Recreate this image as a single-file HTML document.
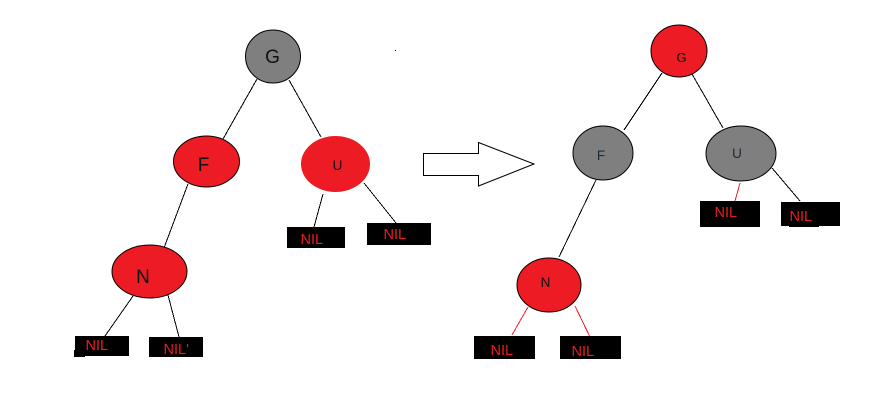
<!DOCTYPE html>
<html lang="en">
<head>
<meta charset="utf-8">
<title>Red-black tree recolor diagram</title>
<style>
html,body{margin:0;padding:0;background:#fff;width:874px;height:402px;overflow:hidden}
svg{display:block}
text{font-family:"Liberation Sans",sans-serif}
.k{fill:#111;text-anchor:middle}
.n{fill:#ed1c24;font-size:14.5px}
line{stroke-width:1}
</style>
</head>
<body>
<svg width="874" height="402" viewBox="0 0 874 402" xmlns="http://www.w3.org/2000/svg">
<rect width="874" height="402" fill="#fff"/>

<g stroke="#000" shape-rendering="crispEdges">
<line x1="257" y1="79" x2="223" y2="139"/>
<line x1="289" y1="80" x2="321" y2="137"/>
<line x1="188" y1="184" x2="164" y2="248"/>
<line x1="323" y1="194" x2="314" y2="227"/>
<line x1="364" y1="183" x2="396" y2="223"/>
<line x1="133" y1="296" x2="105" y2="336"/>
<line x1="168" y1="295" x2="179" y2="337"/>
<line x1="662" y1="73" x2="624" y2="130"/>
<line x1="692" y1="74" x2="723" y2="128"/>
<line x1="596" y1="180" x2="559" y2="257"/>
<line x1="772" y1="168" x2="800" y2="201"/>
</g>
<g stroke="#ed1c24" shape-rendering="crispEdges">
<line x1="528" y1="307" x2="512" y2="335"/>
<line x1="575" y1="306" x2="590" y2="337"/>
<line x1="740" y1="183" x2="735" y2="201"/>
</g>

<g fill="#000" shape-rendering="crispEdges">
<rect x="75" y="336" width="54" height="20"/>
<rect x="74" y="350" width="11" height="7"/>
<rect x="149" y="337" width="54" height="20"/>
<rect x="287" y="227" width="58" height="21"/>
<rect x="367" y="223" width="64" height="22"/>
<rect x="474" y="336" width="61" height="23"/>
<rect x="560" y="336" width="61" height="23"/>
<rect x="700" y="201" width="60" height="26"/>
<rect x="781" y="202" width="59" height="24"/>
<rect x="789" y="225" width="30" height="2"/>
<rect x="395" y="50" width="1" height="1"/>
</g>

<g stroke="#000" stroke-width="1">
<ellipse cx="273" cy="56.5" rx="27.5" ry="26.5" fill="#7f7f7f"/>
<ellipse cx="206.5" cy="161.5" rx="33" ry="25.5" fill="#ed1c24"/>
<ellipse cx="149.5" cy="271.5" rx="37.5" ry="26.5" fill="#ed1c24"/>
<ellipse cx="679" cy="51" rx="28" ry="26" fill="#ed1c24"/>
<ellipse cx="603" cy="153" rx="30" ry="27" fill="#7f7f7f"/>
<ellipse cx="741" cy="153.5" rx="35" ry="27.5" fill="#7f7f7f"/>
<ellipse cx="549" cy="285" rx="32" ry="27" fill="#ed1c24"/>
</g>
<ellipse cx="335.5" cy="164" rx="34.5" ry="28" fill="#ed1c24"/>

<polygon points="423.5,153.5 478.5,153.5 478.5,142.5 534,164 478.5,186 478.5,175.5 423.5,175.5" fill="#fff" stroke="#000" stroke-width="1"/>

<text class="k" x="272.5" y="63" font-size="19">G</text>
<text class="k" x="203.5" y="171" font-size="19">F</text>
<text class="k" x="337.5" y="170" font-size="13.5">U</text>
<text class="k" x="143" y="283" font-size="19">N</text>
<text class="k" x="681.5" y="62" font-size="13">G</text>
<text class="k" x="601" y="160" font-size="13.5" style="fill:#1c2b3a">F</text>
<text class="k" x="737" y="158" font-size="13.5" style="fill:#1c2b3a">U</text>
<text class="k" x="545.5" y="287" font-size="13.5">N</text>

<text class="n" x="85.5" y="350">NIL</text>
<text class="n" x="163.5" y="354">NIL'</text>
<text class="n" x="300.5" y="244">NIL</text>
<text class="n" x="383.5" y="239">NIL</text>
<text class="n" x="490.5" y="355">NIL</text>
<text class="n" x="571.5" y="356">NIL</text>
<text class="n" x="714.5" y="217">NIL</text>
<text class="n" x="789.5" y="221">NIL</text>
</svg>
</body>
</html>
